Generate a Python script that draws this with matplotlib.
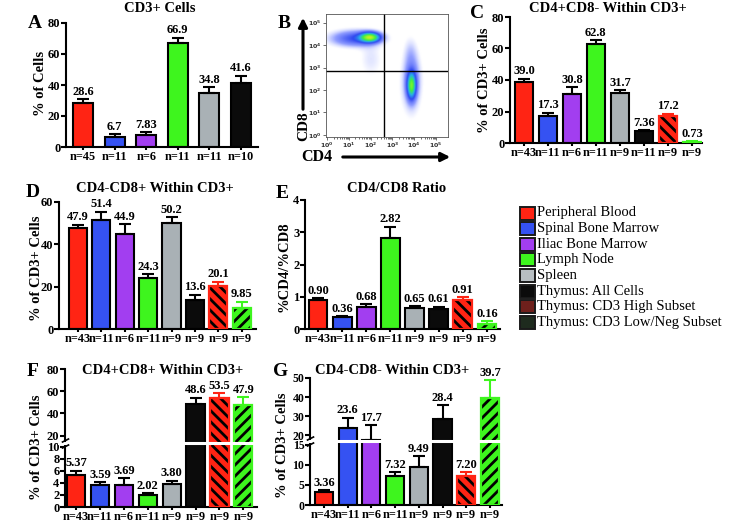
import numpy as np
import matplotlib
matplotlib.use('Agg')
import matplotlib.pyplot as plt
from matplotlib.patches import Rectangle, FancyArrowPatch
from matplotlib.colors import LinearSegmentedColormap
from matplotlib.path import Path

plt.rcParams['font.family'] = ['Liberation Serif', 'DejaVu Serif']
plt.rcParams['font.weight'] = 'bold'
plt.rcParams['hatch.linewidth'] = 2.0

# groups shown in the legend
groups = ['Peripheral Blood', 'Spinal Bone Marrow', 'Iliac Bone Marrow', 'Lymph Node',
          'Spleen', 'Thymus: All Cells', 'Thymus: CD3 High Subset', 'Thymus: CD3 Low/Neg Subset']
group_colors = ['#ff2414', '#3552f2', '#a23ef0', '#3ef51e', '#a9b1b5', '#0b0b0b', '#ff2414', '#3ef51e']
group_hatch = [None, None, None, None, None, None, '\\\\\\', '///']
legend_colors = ['#ff2414', '#3552f2', '#a23ef0', '#3ef51e', '#b7bec2', '#0b0b0b', '#6e201c', '#1e2b1e']

# panel A - CD3+ cells
a_text = ['28.6', '6.7', '7.83', '66.9', '34.8', '41.6']
a_err = [2.2, 1.6, 1.9, 3.7, 3.8, 4.4]
a_n = ['n=45', 'n=11', 'n=6', 'n=11', 'n=11', 'n=10']

# panel C - CD4+CD8-
c_text = ['39.0', '17.3', '30.8', '62.8', '31.7', '7.36', '17.2', '0.73']
c_err = [1.8, 2.0, 4.8, 2.4, 1.8, 0.8, 1.4, 0.3]
c_n = ['n=43', 'n=11', 'n=6', 'n=11', 'n=9', 'n=11', 'n=9', 'n=9']

# panel D - CD4-CD8+
d_text = ['47.9', '51.4', '44.9', '24.3', '50.2', '13.6', '20.1', '9.85']
d_err = [1.4, 4.0, 4.5, 1.5, 2.6, 2.6, 2.3, 3.0]
d_n = ['n=43', 'n=11', 'n=6', 'n=11', 'n=9', 'n=9', 'n=9', 'n=9']

# panel E - CD4/CD8 ratio
e_text = ['0.90', '0.36', '0.68', '2.82', '0.65', '0.61', '0.91', '0.16']
e_err = [0.06, 0.04, 0.09, 0.35, 0.06, 0.08, 0.07, 0.08]
e_n = ['n=43', 'n=11', 'n=6', 'n=11', 'n=9', 'n=9', 'n=9', 'n=9']

# panel F - CD4+CD8+
f_text = ['5.37', '3.59', '3.69', '2.02', '3.80', '48.6', '53.5', '47.9']
f_err = [0.7, 0.5, 1.1, 0.3, 0.6, 5.5, 4.8, 7.0]
f_n = ['n=43', 'n=11', 'n=6', 'n=11', 'n=9', 'n=9', 'n=9', 'n=9']

# panel G - CD4-CD8-
g_text = ['3.36', '23.6', '17.7', '7.32', '9.49', '28.4', '7.20', '39.7']
g_err = [0.3, 5.5, 7.5, 0.8, 2.6, 7.2, 0.9, 9.0]
g_n = ['n=43', 'n=11', 'n=6', 'n=11', 'n=9', 'n=9', 'n=9', 'n=9']

# panel B - flow cytometry populations (log10 decades)
flow_cx = [1.95, 1.3, 2.0, 3.85, 3.85, 3.8, 2.0]
flow_cy = [4.35, 4.3, 3.4, 2.2, 2.4, 3.7, 1.5]
flow_sx = [0.3, 0.75, 0.35, 0.13, 0.28, 0.2, 0.9]
flow_sy = [0.14, 0.24, 0.5, 0.38, 0.85, 0.45, 1.0]
flow_w = [1.0, 0.35, 0.07, 0.8, 0.25, 0.06, 0.02]
gate_x, gate_y = 2.6, 2.85

W, H = 748, 523
fig = plt.figure(figsize=(W / 100, H / 100), dpi=100)


def px_axes(l, t, r, b):
    return fig.add_axes([l / W, 1 - b / H, (r - l) / W, (b - t) / H])


def ftext(x, y, s, **kw):
    fig.text(x / W, 1 - y / H, s, **kw)


def bar_panel(ax, texts, errs, ns, xlim, width):
    vals = [float(t) for t in texts]
    x = np.arange(len(vals))
    for i, v in enumerate(vals):
        col = group_colors[i]
        if group_hatch[i]:
            ax.bar(x[i], v, width, color=col, edgecolor='black', hatch=group_hatch[i], linewidth=0, zorder=2)
            ax.bar(x[i], v, width, color='none', edgecolor=col, linewidth=1.6, zorder=3)
            ecol = col
        else:
            ax.bar(x[i], v, width, color=col, edgecolor='black', linewidth=1.5, zorder=2)
            ecol = 'black'
        ax.errorbar(x[i], v, yerr=[[0], [errs[i]]], fmt='none', ecolor=ecol,
                    elinewidth=1.5, capsize=4, capthick=1.5, zorder=4)
        ax.annotate(texts[i], (x[i], v + errs[i]), xytext=(0, 1), textcoords='offset points',
                    ha='center', va='bottom', fontsize=9, fontweight='bold', annotation_clip=False)
    ax.set_xlim(*xlim)
    ax.set_xticks(x)
    ax.set_xticklabels(ns)
    for s in ['top', 'right']:
        ax.spines[s].set_visible(False)
    for s in ['left', 'bottom']:
        ax.spines[s].set_linewidth(1.5)
    ax.tick_params(direction='out', length=3.5, width=1.5, labelsize=9, pad=0.5)
    ax.tick_params(axis='x', length=2.5, pad=0.3, labelsize=8.8)
    ax.yaxis.set_minor_locator(matplotlib.ticker.NullLocator())


def broken(ax, b, k, top, ticks):
    fwd = lambda y: np.where(y <= b, y, b + (y - b) * k)
    inv = lambda y: np.where(y <= b, y, b + (y - b) / k)
    ax.set_yscale('function', functions=(fwd, inv))
    ax.set_ylim(0, top)
    ax.set_yticks(ticks)
    ax.set_yticklabels([str(t) for t in ticks])
    ax.yaxis.set_minor_locator(matplotlib.ticker.NullLocator())
    gap = float(inv(b + 0.03 * (b + (top - b) * k)))
    ax.axhline(gap, xmin=-0.03, xmax=1, color='white', lw=2.2, zorder=6, clip_on=False)
    mk = Path([(-1, -1.3), (1, -0.3), (-1, 0.3), (1, 1.3)],
              [Path.MOVETO, Path.LINETO, Path.MOVETO, Path.LINETO])
    ax.plot([0], [gap], marker=mk, markersize=7, mew=1.2, color='black',
            transform=ax.get_yaxis_transform(), clip_on=False, zorder=7)


# ---- A ----
axA = px_axes(66, 23, 258, 147)
bar_panel(axA, a_text, a_err, a_n, (-0.54, 5.54), 0.64)
axA.set_ylim(0, 80)
axA.set_yticks([0, 20, 40, 60, 80])
ftext(160, 9, 'CD3+ Cells', ha='center', va='center', fontsize=10.5)
ftext(40, 83, '% of Cells', rotation=90, ha='center', va='center', fontsize=10.5)
ftext(35, 24, 'A', ha='center', va='center', fontsize=14)

# ---- B ----
axB = px_axes(326, 14, 448, 137)
xs = np.linspace(-0.05, 5.55, 300)
ys = np.linspace(-0.09, 5.38, 300)
X, Y = np.meshgrid(xs, ys)
dens = np.zeros_like(X)
for cx, cy, sx, sy, w in zip(flow_cx, flow_cy, flow_sx, flow_sy, flow_w):
    dens += w * np.exp(-0.5 * ((X - cx) / sx) ** 2 - 0.5 * ((Y - cy) / sy) ** 2)
dens = dens / dens.max()
flow_cmap = LinearSegmentedColormap.from_list(
    'flow', [(0, 'white'), (0.025, 'white'), (0.06, '#dfe3ff'), (0.13, '#8f9cff'), (0.3, '#3048f0'),
             (0.5, '#28b0e8'), (0.72, '#40f040'), (1.0, '#c8f020')])
axB.imshow(dens, origin='lower', extent=[xs[0], xs[-1], ys[0], ys[-1]], cmap=flow_cmap,
           vmin=0, vmax=1, aspect='auto', interpolation='bilinear')
axB.axvline(gate_x, color='black', lw=1)
axB.axhline(gate_y, color='black', lw=1)
axB.set_xlim(xs[0], xs[-1])
axB.set_ylim(ys[0], ys[-1])
dec = list(range(6))
axB.set_xticks(dec)
axB.set_yticks(dec)
axB.set_xticklabels([r'$10^{%d}$' % d for d in dec], fontsize=4.5, fontweight='normal')
axB.set_yticklabels([r'$10^{%d}$' % d for d in dec], fontsize=4.5, fontweight='normal')
minor = [d + np.log10(m) for d in range(5) for m in range(2, 10)]
axB.set_xticks(minor, minor=True)
axB.tick_params(length=2, width=0.5, pad=1, colors='#333333')
axB.tick_params(which='minor', length=1.5, width=0.4)
for s in axB.spines.values():
    s.set_linewidth(0.6)
    s.set_color('#555555')
fig.add_artist(FancyArrowPatch((303 / W, 1 - 112 / H), (303 / W, 1 - 15 / H), transform=fig.transFigure,
                               arrowstyle='-|>', mutation_scale=13, lw=2.2, color='black'))
fig.add_artist(FancyArrowPatch((340 / W, 1 - 157 / H), (453 / W, 1 - 157 / H), transform=fig.transFigure,
                               arrowstyle='-|>', mutation_scale=13, lw=2.2, color='black'))
ftext(304, 126, 'CD8', rotation=90, ha='center', va='center', fontsize=11)
ftext(317, 157, 'CD4', ha='center', va='center', fontsize=11.5)
ftext(284, 23, 'B', ha='center', va='center', fontsize=14)

# ---- C ----
axC = px_axes(510, 17, 702, 143)
bar_panel(axC, c_text, c_err, c_n, (-0.58, 7.42), 0.76)
axC.set_ylim(0, 80)
axC.set_yticks([0, 20, 40, 60, 80])
ftext(608, 9, 'CD4+CD8- Within CD3+', ha='center', va='center', fontsize=10.5)
ftext(484, 80, '% of CD3+ Cells', rotation=90, ha='center', va='center', fontsize=10.5)
ftext(477, 13, 'C', ha='center', va='center', fontsize=14)

# ---- D ----
axD = px_axes(59, 202, 256, 329)
bar_panel(axD, d_text, d_err, d_n, (-0.81, 7.61), 0.78)
axD.set_ylim(0, 60)
axD.set_yticks([0, 20, 40, 60])
ftext(155, 188, 'CD4-CD8+ Within CD3+', ha='center', va='center', fontsize=10.5)
ftext(36, 268, '% of CD3+ Cells', rotation=90, ha='center', va='center', fontsize=10.5)
ftext(33, 192, 'D', ha='center', va='center', fontsize=14)

# ---- E ----
axE = px_axes(305, 200, 500, 329)
bar_panel(axE, e_text, e_err, e_n, (-0.54, 7.54), 0.78)
axE.set_ylim(0, 4)
axE.set_yticks([0, 1, 2, 3, 4])
ftext(397, 189, 'CD4/CD8 Ratio', ha='center', va='center', fontsize=10.5)
ftext(284, 267, '%CD4/%CD8', rotation=90, ha='center', va='center', fontsize=10.5)
ftext(282, 193, 'E', ha='center', va='center', fontsize=14)

# ---- legend ----
for i, name in enumerate(groups):
    yc = 213 + i * 15.6
    fig.add_artist(Rectangle((520 / W, 1 - (yc + 6.5) / H), 15 / W, 13 / H, transform=fig.transFigure,
                             facecolor=legend_colors[i], edgecolor='#1a1a1a', lw=1.4))
    ftext(537, yc, name, ha='left', va='center', fontsize=10.5, fontweight='normal')

# ---- F ----
axF = px_axes(65, 369, 257, 507)
bar_panel(axF, f_text, f_err, f_n, (-0.46, 7.57), 0.76)
broken(axF, 10, 0.185, 80, [0, 2, 4, 6, 8, 10, 20, 40, 60, 80])
ftext(163, 371, 'CD4+CD8+ Within CD3+', ha='center', va='center', fontsize=10.5)
ftext(36, 447, '% of CD3+ Cells', rotation=90, ha='center', va='center', fontsize=10.5)
ftext(33, 372, 'F', ha='center', va='center', fontsize=14)

# ---- G ----
axG = px_axes(310, 378, 502, 505)
bar_panel(axG, g_text, g_err, g_n, (-0.59, 7.51), 0.76)
broken(axG, 15, 0.475, 50, [0, 5, 10, 15, 20, 30, 40, 50])
axG.tick_params(axis='y', labelsize=8.5)
ftext(392, 371, 'CD4-CD8- Within CD3+', ha='center', va='center', fontsize=10.5)
ftext(283, 445, '% of CD3+ Cells', rotation=90, ha='center', va='center', fontsize=10.5)
ftext(281, 372, 'G', ha='center', va='center', fontsize=14)

fig.savefig('out.png', dpi=100)
